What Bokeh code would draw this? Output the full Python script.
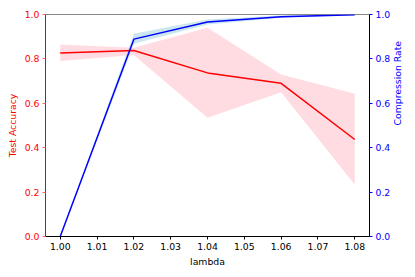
import math
from bokeh.plotting import figure
from bokeh.models import LinearAxis, Range1d, FixedTicker, CustomJSTickFormatter
from bokeh.embed import file_html
from bokeh.resources import INLINE

lambdas = [1.00, 1.02, 1.04, 1.06, 1.08]
acc_mean = [0.827, 0.838, 0.737, 0.690, 0.437]
acc_low = [0.790, 0.818, 0.535, 0.650, 0.233]
acc_high = [0.865, 0.850, 0.940, 0.730, 0.643]
comp_mean = [0.0, 0.889, 0.966, 0.990, 0.999]
comp_low = [0.0, 0.868, 0.955, 0.985, 0.997]
comp_high = [0.0, 0.913, 0.978, 0.995, 1.0]
x_ticks = [1.00, 1.01, 1.02, 1.03, 1.04, 1.05, 1.06, 1.07, 1.08]
y_ticks = [0.0, 0.2, 0.4, 0.6, 0.8, 1.0]

FONT = "DejaVu Sans"
FS = "9.3px"

p = figure(output_backend="svg", toolbar_location=None,
           frame_width=324, frame_height=222,
           x_range=Range1d(0.996, 1.084), y_range=Range1d(0, 1),
           min_border_left=45, min_border_right=46, min_border_top=14, min_border_bottom=41)
p.extra_y_ranges = {"right": Range1d(0, 1)}
p.grid.visible = False
p.outline_line_color = "#888888"
p.outline_line_width = 1
p.background_fill_color = "white"
p.border_fill_color = "white"

p.varea(x=lambdas, y1=acc_low, y2=acc_high, fill_color="pink", fill_alpha=0.55)
p.varea(x=lambdas, y1=comp_low, y2=comp_high, fill_color="lightblue", fill_alpha=0.65, y_range_name="right")
p.line(lambdas, acc_mean, line_color="red", line_width=1.5)
p.line(lambdas, comp_mean, line_color="blue", line_width=1.5, y_range_name="right")

right = LinearAxis(y_range_name="right", axis_label="Compression Rate")
p.add_layout(right, "right")

fmt2 = CustomJSTickFormatter(code="return tick.toFixed(2);")
fmt1 = CustomJSTickFormatter(code="return tick.toFixed(1);")

p.xaxis.ticker = FixedTicker(ticks=x_ticks)
p.xaxis.formatter = fmt2
p.xaxis.axis_label = "lambda"

for ax in p.yaxis:
    ax.ticker = FixedTicker(ticks=y_ticks)
    ax.formatter = fmt1

p.yaxis[0].axis_label = "Test Accuracy"

for ax in list(p.xaxis) + list(p.yaxis):
    ax.major_label_text_font = FONT
    ax.major_label_text_font_size = FS
    ax.axis_label_text_font = FONT
    ax.axis_label_text_font_size = FS
    ax.axis_label_text_font_style = "normal"
    ax.major_label_text_color = "black"
    ax.axis_label_text_color = "black"
    ax.minor_tick_line_color = None
    ax.major_tick_out = 3
    ax.major_tick_in = 0
    ax.axis_line_color = "black"
    ax.major_tick_line_color = "black"
    ax.axis_label_standoff = 4
    ax.major_label_standoff = 3

p.xaxis.axis_label_standoff = 3
p.yaxis[0].axis_line_color = "#444444"
p.yaxis[0].major_label_text_color = "red"
p.yaxis[0].axis_label_text_color = "red"
p.yaxis[0].major_tick_line_color = "#ff6666"
p.yaxis[1].major_label_text_color = "blue"
p.yaxis[1].axis_label_text_color = "blue"
p.yaxis[1].major_tick_line_color = "blue"
p.yaxis[1].axis_label_orientation = math.pi / 2

open("out.html", "w").write(file_html(p, INLINE))
